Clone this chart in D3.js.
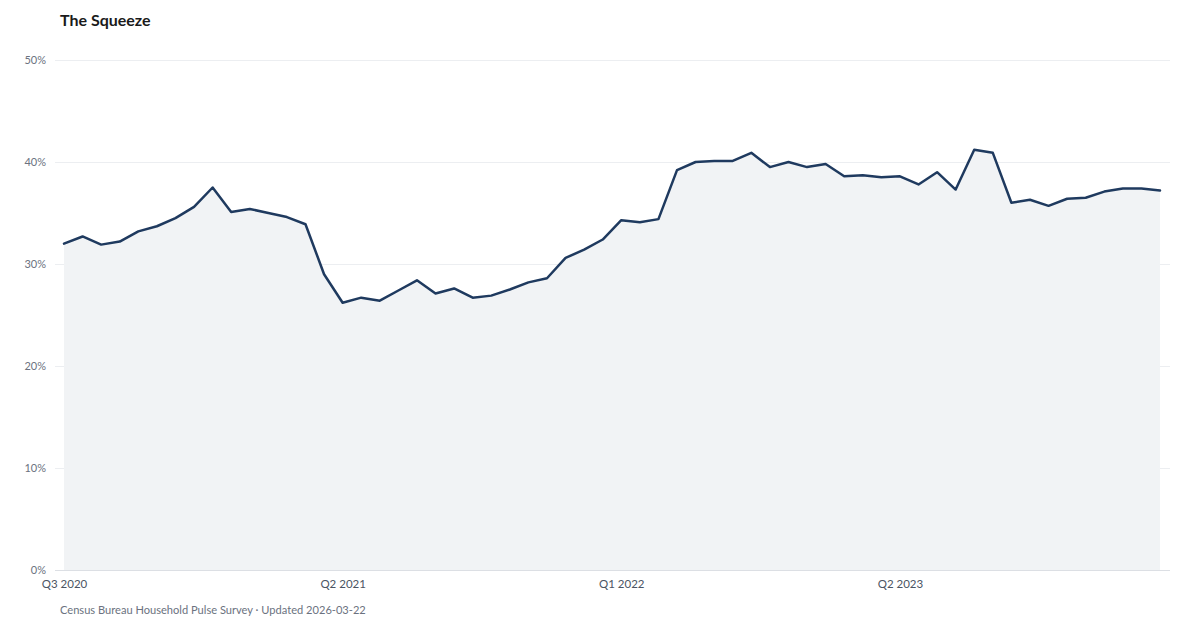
<!DOCTYPE html>
<html>
<head>
<meta charset="utf-8">
<script src="https://cdn.jsdelivr.net/npm/d3@7"></script>
<style>
  html, body { margin: 0; padding: 0; background: #ffffff; }
  svg { display: block; font-family: Lato, "Open Sans", sans-serif; }
</style>
</head>
<body>
<svg id="chart" width="1200" height="630"></svg>
<script>
// ---- data ----
const title = "The Squeeze";
const source = "Census Bureau Household Pulse Survey \u00b7 Updated 2026-03-22";

const periods = [
  "P01","P02","P03","P04","P05","P06","P07","P08","P09","P10",
  "P11","P12","P13","P14","P15","P16","P17","P18","P19","P20",
  "P21","P22","P23","P24","P25","P26","P27","P28","P29","P30",
  "P31","P32","P33","P34","P35","P36","P37","P38","P39","P40",
  "P41","P42","P43","P44","P45","P46","P47","P48","P49","P50",
  "P51","P52","P53","P54","P55","P56","P57","P58","P59","P60"
];

const shareValues = [
  32.0, 32.7, 31.9, 32.2, 33.2, 33.7, 34.5, 35.6, 37.5, 35.1,
  35.4, 35.0, 34.6, 33.9, 29.0, 26.2, 26.7, 26.4, 27.4, 28.4,
  27.1, 27.6, 26.7, 26.9, 27.5, 28.2, 28.6, 30.6, 31.4, 32.4,
  34.3, 34.1, 34.4, 39.2, 40.0, 40.1, 40.1, 40.9, 39.5, 40.0,
  39.5, 39.8, 38.6, 38.7, 38.5, 38.6, 37.8, 39.0, 37.3, 41.2,
  40.9, 36.0, 36.3, 35.7, 36.4, 36.5, 37.1, 37.4, 37.4, 37.2
];

const xTickPeriods = ["P01", "P16", "P31", "P46"];
const xTickLabels = ["Q3 2020", "Q2 2021", "Q1 2022", "Q2 2023"];

const yTicks = [0, 10, 20, 30, 40, 50];

// ---- layout ----
const svg = d3.select("#chart");
const plotLeft = 64, plotRight = 1160, plotTop = 60, plotBottom = 570;

const x = d3.scalePoint().domain(periods).range([plotLeft, plotRight]);
const y = d3.scaleLinear().domain([0, 50]).range([plotBottom, plotTop]);

const data = periods.map((p, i) => ({ p, v: shareValues[i] }));

// title
svg.append("text")
  .attr("x", 60).attr("y", 26)
  .attr("font-size", 16).attr("font-weight", 700)
  .attr("fill", "#1a1a1a")
  .text(title);

// gridlines + y labels
const yAxis = d3.axisLeft(y).tickValues(yTicks)
  .tickFormat(d => d + "%")
  .tickSize(-(1170 - 55)).tickPadding(9);
const gy = svg.append("g").attr("transform", `translate(55,0)`).call(yAxis);
gy.select(".domain").remove();
gy.selectAll(".tick line").attr("stroke", d => d === 0 ? "#dcdfe4" : "#eceef1").attr("stroke-width", 1);
gy.selectAll(".tick text")
  .attr("font-size", 11).attr("fill", "#6b7280")
  .attr("font-family", "Lato, sans-serif");

// area
const area = d3.area()
  .x(d => x(d.p)).y0(y(0)).y1(d => y(d.v));
svg.append("path").datum(data)
  .attr("d", area)
  .attr("fill", "#f1f3f5");

// baseline redraw on top of area
svg.append("line")
  .attr("x1", 55).attr("x2", 1170)
  .attr("y1", y(0) + 0.5).attr("y2", y(0) + 0.5)
  .attr("stroke", "#dcdfe4").attr("stroke-width", 1);

// line
const line = d3.line().x(d => x(d.p)).y(d => y(d.v));
svg.append("path").datum(data)
  .attr("d", line)
  .attr("fill", "none")
  .attr("stroke", "#1f3a5f")
  .attr("stroke-width", 2.5)
  .attr("stroke-linejoin", "round")
  .attr("stroke-linecap", "round");

// x axis labels
const xAxis = d3.axisBottom(x).tickValues(xTickPeriods)
  .tickFormat(d => xTickLabels[xTickPeriods.indexOf(d)])
  .tickSize(0).tickPadding(10);
const gx = svg.append("g").attr("transform", `translate(0,${plotBottom})`).call(xAxis);
gx.select(".domain").remove();
gx.selectAll(".tick text")
  .attr("font-size", 11.5).attr("fill", "#4b5563")
  .attr("font-family", "Lato, sans-serif");

// source
svg.append("text")
  .attr("x", 60).attr("y", 614)
  .attr("font-size", 11.1).attr("fill", "#6b7280")
  .text(source);
</script>
</body>
</html>
